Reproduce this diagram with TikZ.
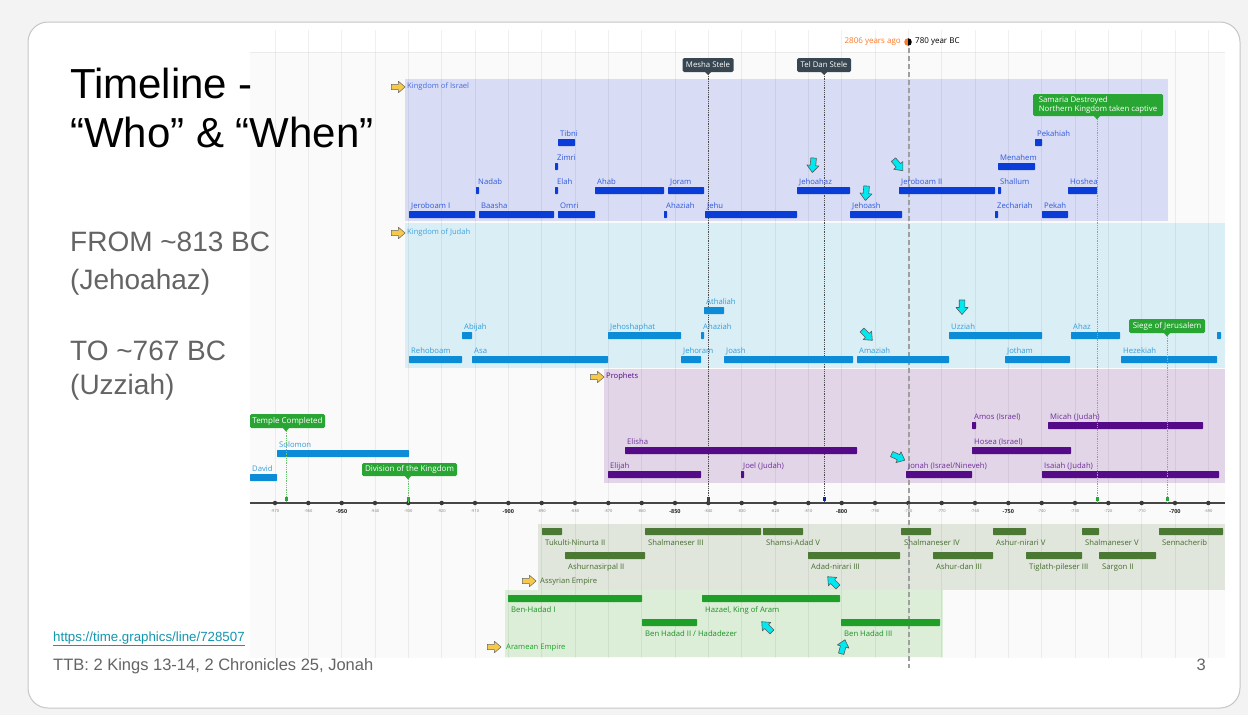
\documentclass[tikz,border=0pt]{standalone}
\usepackage{fontspec}
\setmainfont{Liberation Sans}
\newfontfamily\tgf{Open Sans}
\usetikzlibrary{shapes.arrows,shapes.geometric}
\definecolor{outerbg}{RGB}{243,243,243}
\definecolor{tlbg}{RGB}{250,250,250}
\definecolor{isrband}{RGB}{216,220,244}
\definecolor{judband}{RGB}{218,238,246}
\definecolor{proband}{RGB}{226,213,232}
\definecolor{assband}{RGB}{224,230,220}
\definecolor{araband}{RGB}{220,238,215}
\definecolor{ib}{RGB}{10,60,215}
\definecolor{jb}{RGB}{12,140,215}
\definecolor{pb}{RGB}{85,10,135}
\definecolor{ab}{RGB}{75,120,50}
\definecolor{rb}{RGB}{30,160,40}
\definecolor{evgreen}{RGB}{40,165,50}
\definecolor{stele}{RGB}{55,70,80}
\definecolor{arrowyellow}{RGB}{247,201,72}
\definecolor{arrowcyan}{RGB}{0,232,240}
\definecolor{hdrorange}{RGB}{255,120,40}
\definecolor{slidegray}{RGB}{100,100,100}
\definecolor{linkteal}{RGB}{20,150,175}
\tikzset{
 barbox/.style={rectangle, inner sep=0pt, minimum height=7pt, rounded corners=0.6pt},
 barlbl/.style={inner sep=0pt, font=\tgf\fontsize{7.7}{8}\selectfont},
 bandlbl/.style={inner sep=0pt, anchor=west, font=\tgf\fontsize{7.6}{8}\selectfont},
 fatarrow/.pic={\filldraw[pic actions, line join=round] (-7,-2.8) -- (0.5,-2.8) -- (0.5,-6) -- (7.5,0) -- (0.5,6) -- (0.5,2.8) -- (-7,2.8) -- cycle;},
 yarrow/.style={fill=arrowyellow, draw=gray!80!black, line width=0.5pt, scale=0.95},
 carrow/.style={fill=arrowcyan, draw=gray!70!black, line width=0.6pt},
 evbox/.style={rectangle, rounded corners=1.5pt, fill=evgreen, text=white, inner xsep=2pt, inner ysep=0pt, font=\tgf\fontsize{8}{9}\selectfont},
 stelebox/.style={evbox, fill=stele, font=\tgf\fontsize{7.8}{9}\selectfont},
 evline/.style={evgreen!70, densely dotted, line width=0.8pt},
 steleline/.style={gray!60!black, densely dotted, line width=0.8pt},
 gridln/.style={black, opacity=0.06, line width=0.6pt},
 tickmark/.style={circle, fill=gray!45!black, inner sep=0pt, minimum size=4.5pt},
 axlbl/.style={inner sep=0pt, font=\tgf\fontsize{4}{5}\selectfont, text=gray},
 axlblb/.style={inner sep=0pt, font=\tgf\bfseries\fontsize{5.5}{6}\selectfont, text=gray!30!black},
 slidetxt/.style={inner sep=0pt, anchor=base west, text=slidegray, font=\fontsize{28}{32}\selectfont},
}
% bar with label above: name, x1, x2, ytop, colour, label
\newcommand\tbar[6]{%
 \node[barbox, fill=#5, minimum width={(#3-#2)*1pt}] (#1) at ({(#2+#3)/2},{#4+3.5}) {};
 \node[barlbl, text=#5!85!white, anchor=base west] (#1-l) at ({#2+2},{#4-2.5}) {#6};}
% bar with label below
\newcommand\tbarb[6]{%
 \node[barbox, fill=#5, minimum width={(#3-#2)*1pt}] (#1) at ({(#2+#3)/2},{#4+3.5}) {};
 \node[barlbl, text=#5!90!black, anchor=base west] (#1-l) at ({#2+3},{#4+17.5}) {#6};}
\begin{document}
\begin{tikzpicture}[x=1pt,y=-1pt]
\useasboundingbox (0,0) rectangle (1248,715);
\fill[outerbg] (0,0) rectangle (1248,715);
\draw[gray!45, line width=1pt, fill=white, rounded corners=20pt] (28,22) rectangle (1240,708);
\fill[tlbg] (250,52) rectangle (1225,658);
\draw[black!8, line width=0.8pt] (250,52) -- (1225,52);
% bands
\fill[isrband] (405,79) rectangle (1168,221);
\fill[judband] (405,223) rectangle (1225,368);
\fill[proband] (604,369) rectangle (1225,483);
\fill[assband] (538,524) rectangle (1225,590);
\fill[araband] (505,590) rectangle (943,657);
% grid + axis ticks
\foreach \i in {0,...,28}{
 \pgfmathsetmacro\gx{275+\i*33.3333}
 \draw[gridln] (\gx,30) -- (\gx,658);
}
\draw[gray!55!black, line width=2.2pt] (250,503) -- (1225,503);
\foreach \i in {0,...,28}{
 \pgfmathsetmacro\gx{275+\i*33.3333}
 \pgfmathtruncatemacro\yr{-970+10*\i}
 \pgfmathtruncatemacro\md{mod(abs(\yr),50)}
 \node[tickmark] (t\i) at (\gx,503) {};
 \ifnum\md=0 \node[axlblb] (tl\i) at (\gx,512) {\yr};\else \node[axlbl] (tl\i) at (\gx,511) {\yr};\fi
}
% header
\node[inner sep=0pt, anchor=east, text=hdrorange, font=\tgf\fontsize{8}{9}\selectfont] (ago) at (901,42) {2806 years ago};
\begin{scope}
\clip (908,42) circle (3.8);
\fill[hdrorange] (904,38) rectangle (908,46);
\fill[black] (908,38) rectangle (912,46);
\end{scope}
\coordinate (nowdot) at (908,42);
\node[inner sep=0pt, anchor=west, font=\tgf\fontsize{8}{9}\selectfont] (bc) at (915,42) {780 year BC};
\coordinate (now-top) at (909,48);
\coordinate (now-bot) at (909,668);
\draw[gray!75, line width=1.4pt, dash pattern=on 5pt off 3pt] (now-top) -- (now-bot);
% steles
\node[stelebox, minimum width=51pt, minimum height=14pt] (mesha) at (708,65) {Mesha Stele};
\fill[stele] (705,72) -- (711,72) -- (708,75) -- cycle;
\coordinate (mesha-ax) at (708,503);
\draw[steleline] (mesha.south) -- (mesha-ax);
\node[stelebox, minimum width=54pt, minimum height=14pt] (teldan) at (824,65) {Tel Dan Stele};
\fill[stele] (821,72) -- (827,72) -- (824,75) -- cycle;
\coordinate (teldan-ax) at (824,503);
\draw[steleline] (teldan.south) -- (teldan-ax);
\fill[gray!50!black] (706.5,497) rectangle (709.5,501);
\fill[ib!70!black] (822.5,497) rectangle (825.5,501);
% band labels and yellow arrows
\pic[yarrow] (isra) at (398,87) {fatarrow};
\node[bandlbl, text=ib!75!white] (isr-t) at (407,87) {Kingdom of Israel};
\pic[yarrow] (juda) at (398,233) {fatarrow};
\node[bandlbl, text=jb!80!white] (jud-t) at (407,233) {Kingdom of Judah};
\pic[yarrow] (proa) at (597,377) {fatarrow};
\node[bandlbl, text=pb] (pro-t) at (606,377) {Prophets};
\pic[yarrow] (assa) at (529,581) {fatarrow};
\node[bandlbl, text=ab!90!black] (ass-t) at (540,582) {Assyrian Empire};
\pic[yarrow] (araa) at (494,647) {fatarrow};
\node[bandlbl, text=rb] (ara-t) at (506,648) {Aramean Empire};
% Israel
\tbar{jeroboam1}{409}{475}{211}{ib}{Jeroboam I}
\tbar{nadab}{476}{479}{187}{ib}{Nadab}
\tbar{baasha}{479}{554}{211}{ib}{Baasha}
\tbar{elah}{555}{558}{187}{ib}{Elah}
\tbar{zimri}{555}{558}{163}{ib}{Zimri}
\tbar{tibni}{558}{575}{139}{ib}{Tibni}
\tbar{omri}{558}{595}{211}{ib}{Omri}
\tbar{ahab}{595}{664}{187}{ib}{Ahab}
\tbar{ahaziahI}{664}{667}{211}{ib}{Ahaziah}
\tbar{joram}{668}{704}{187}{ib}{Joram}
\tbar{jehu}{705}{797}{211}{ib}{Jehu}
\tbar{jehoahaz}{797}{850}{187}{ib}{Jehoahaz}
\tbar{jehoash}{850}{902}{211}{ib}{Jehoash}
\tbar{jeroboam2}{899}{995}{187}{ib}{Jeroboam II}
\tbar{zechariah}{995}{998}{211}{ib}{Zechariah}
\tbar{shallum}{998}{1001}{187}{ib}{Shallum}
\tbar{menahem}{998}{1035}{163}{ib}{Menahem}
\tbar{pekahiah}{1035}{1042}{139}{ib}{Pekahiah}
\tbar{pekah}{1042}{1068}{211}{ib}{Pekah}
\tbar{hoshea}{1068}{1097}{187}{ib}{Hoshea}
% Judah
\tbar{rehoboam}{409}{462}{356}{jb}{Rehoboam}
\tbar{abijah}{462}{472}{332}{jb}{Abijah}
\tbar{asa}{472}{608}{356}{jb}{Asa}
\tbar{jehoshaphat}{608}{681}{332}{jb}{Jehoshaphat}
\tbar{jehoram}{681}{701}{356}{jb}{Jehoram}
\tbar{ahaziahJ}{701}{704}{332}{jb}{Ahaziah}
\tbar{athaliah}{704}{724}{307}{jb}{Athaliah}
\tbar{joash}{724}{853}{356}{jb}{Joash}
\tbar{amaziah}{857}{949}{356}{jb}{Amaziah}
\tbar{uzziah}{949}{1042}{332}{jb}{Uzziah}
\tbar{jotham}{1005}{1070}{356}{jb}{Jotham}
\tbar{ahaz}{1071}{1120}{332}{jb}{Ahaz}
\tbar{hezekiah}{1121}{1217}{356}{jb}{Hezekiah}
\tbar{manasseh}{1217}{1221}{332}{jb}{}
\tbar{solomon}{277}{409}{450}{jb}{Solomon}
\tbar{david}{250}{277}{474}{jb}{David}
% Prophets
\tbar{elisha}{625}{857}{447}{pb}{Elisha}
\tbar{elijah}{608}{701}{471}{pb}{Elijah}
\tbar{joel}{741}{744}{471}{pb}{Joel (Judah)}
\tbar{jonah}{906}{972}{471}{pb}{Jonah (Israel/Nineveh)}
\tbar{amos}{972}{976}{422}{pb}{Amos (Israel)}
\tbar{hosea}{972}{1071}{447}{pb}{Hosea (Israel)}
\tbar{micah}{1048}{1203}{422}{pb}{Micah (Judah)}
\tbar{isaiah}{1042}{1219}{471}{pb}{Isaiah (Judah)}
% Assyria
\tbarb{tukulti}{542}{562}{528}{ab}{Tukulti-Ninurta II}
\tbarb{ashurnasirpal}{565}{645}{552}{ab}{Ashurnasirpal II}
\tbarb{shalm3}{645}{761}{528}{ab}{Shalmaneser III}
\tbarb{shamsi}{763}{803}{528}{ab}{Shamsi-Adad V}
\tbarb{adad}{808}{900}{552}{ab}{Adad-nirari III}
\tbarb{shalm4}{901}{931}{528}{ab}{Shalmaneser IV}
\tbarb{ashurdan}{933}{993}{552}{ab}{Ashur-dan III}
\tbarb{ashurnirari}{993}{1026}{528}{ab}{Ashur-nirari V}
\tbarb{tiglath}{1026}{1082}{552}{ab}{Tiglath-pileser III}
\tbarb{shalm5}{1082}{1099}{528}{ab}{Shalmaneser V}
\tbarb{sargon}{1099}{1156}{552}{ab}{Sargon II}
\tbarb{sennacherib}{1159}{1223}{528}{ab}{Sennacherib}
% Aram
\tbarb{benhadad1}{508}{642}{595}{rb}{Ben-Hadad I}
\tbarb{hazael}{702}{840}{595}{rb}{Hazael, King of Aram}
\tbarb{benhadad2}{642}{697}{619}{rb}{Ben Hadad II / Hadadezer}
\tbarb{benhadad3}{841}{940}{619}{rb}{Ben Hadad III}
% events
\node[evbox, minimum width=130pt, minimum height=22pt, align=left, font=\tgf\fontsize{7.8}{9}\selectfont] (samaria) at (1098,105) {Samaria Destroyed\\Northern Kingdom taken captive};
\fill[evgreen] (1094,116) -- (1100,116) -- (1097,119.5) -- cycle;
\coordinate (samaria-p) at (1097,119);
\coordinate (samaria-ax) at (1097,503);
\draw[evline] (samaria-p) -- (samaria-ax);
\node[evbox, minimum width=76pt, minimum height=14pt] (siege) at (1167,326) {Siege of Jerusalem};
\fill[evgreen] (1164,333) -- (1170,333) -- (1167,336.5) -- cycle;
\coordinate (siege-p) at (1167,336);
\coordinate (siege-ax) at (1167,503);
\draw[evline] (siege-p) -- (siege-ax);
\node[evbox, minimum width=75pt, minimum height=14pt] (temple) at (287.5,421) {Temple Completed};
\fill[evgreen] (283,428) -- (289,428) -- (286,431.5) -- cycle;
\coordinate (temple-p) at (286,431);
\coordinate (temple-ax) at (286,503);
\draw[evline] (temple-p) -- (temple-ax);
\node[evbox, minimum width=95pt, minimum height=13pt] (division) at (409.5,469.5) {Division of the Kingdom};
\fill[evgreen] (405,476) -- (411,476) -- (408,479.5) -- cycle;
\coordinate (division-p) at (408,479);
\coordinate (division-ax) at (408,503);
\draw[evline] (division-p) -- (division-ax);
\foreach \ex in {286,408,1097,1167}{\fill[evgreen] (\ex-1.5,497) rectangle (\ex+1.5,501);}
% cyan pointers
\pic[carrow, rotate=-95] (c1) at (813,165) {fatarrow};
\pic[carrow, rotate=-50] (c2) at (898,165) {fatarrow};
\pic[carrow, rotate=-95] (c3) at (866,193) {fatarrow};
\pic[carrow, rotate=-45] (c4) at (867,335) {fatarrow};
\pic[carrow, rotate=-90] (c5) at (962,307) {fatarrow};
\pic[carrow, rotate=-25] (c6) at (898,457) {fatarrow};
\pic[carrow, rotate=135] (c7) at (833,582) {fatarrow};
\pic[carrow, rotate=135] (c8) at (767,627) {fatarrow};
\pic[carrow, rotate=75] (c9) at (843,647) {fatarrow};
% slide text
\node[inner sep=0pt, anchor=base west, font=\fontsize{42}{48}\selectfont] (title1) at (70,98) {Timeline -};
\node[inner sep=0pt, anchor=base west, font=\fontsize{42}{48}\selectfont] (title2) at (70,147) {“Who” \& “When”};
\node[slidetxt] (from) at (70,251) {FROM \textasciitilde813 BC};
\node[slidetxt] (jehoahazT) at (70,289) {(Jehoahaz)};
\node[slidetxt] (to) at (70,360) {TO \textasciitilde767 BC};
\node[slidetxt] (uzziahT) at (70,394) {(Uzziah)};
\node[inner sep=0pt, anchor=base west, text=linkteal, font=\fontsize{13.3}{15}\selectfont] (link) at (53,641) {\underline{https://time.graphics/line/728507}};
\node[inner sep=0pt, anchor=base west, text=slidegray, font=\fontsize{16.5}{19}\selectfont] (ttb) at (53,670) {TTB: 2 Kings 13-14, 2 Chronicles 25, Jonah};
\node[inner sep=0pt, anchor=base east, text=slidegray, font=\fontsize{16.5}{19}\selectfont] (pageno) at (1206,670) {3};
\end{tikzpicture}
\end{document}
